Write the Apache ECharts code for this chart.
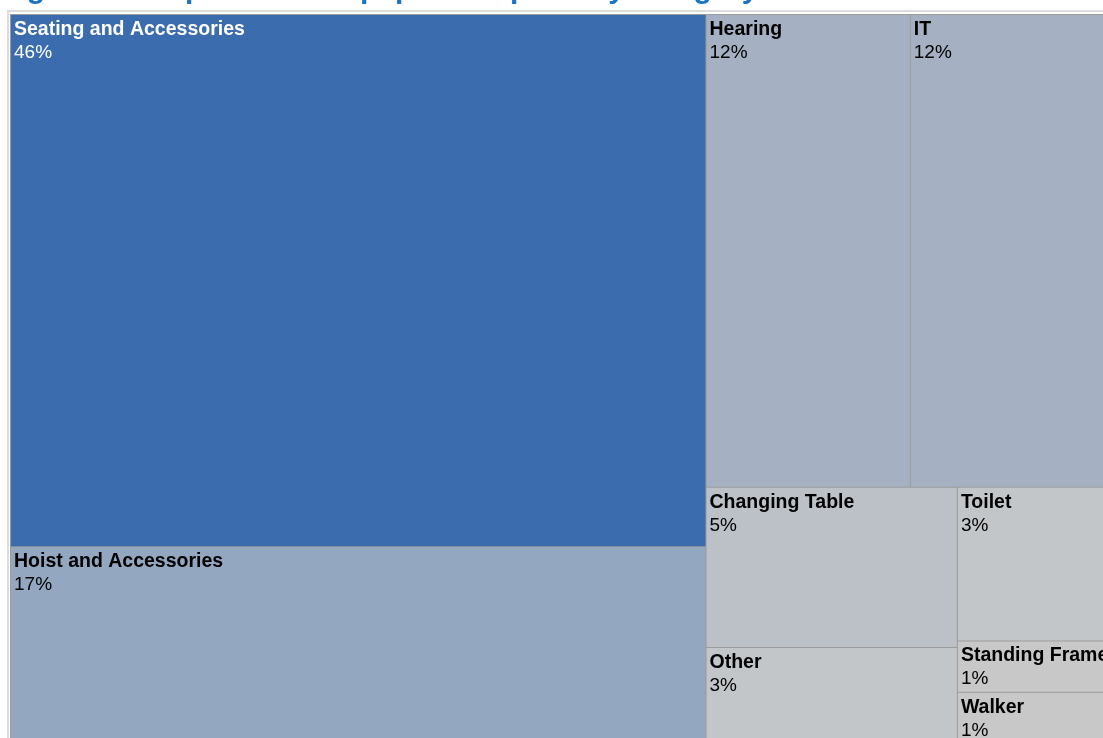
<!DOCTYPE html>
<html>
<head>
<meta charset="utf-8">
<script src="https://cdn.jsdelivr.net/npm/echarts@6/dist/echarts.min.js"></script>
<style>
  html, body { margin: 0; padding: 0; background: #ffffff; }
  #chart { width: 1103px; height: 738px; }
</style>
</head>
<body>
<div id="chart"></div>
<script>
// ---- data (already ordered largest first) ----
const categories = [
  'Seating and Accessories', 'Hoist and Accessories', 'Hearing', 'IT',
  'Changing Table', 'Other', 'Toilet', 'Standing Frame', 'Walker'
];
const shares = [46, 17, 12, 12, 5, 3, 3, 1, 1];
const titleText = 'Figure 1: Proportion of equipment spend by category';

// ---- styles ----
const cellColors = ['#3b6cae', '#93a7c0', '#a5b1c2', '#a5b1c2', '#bcc0c7', '#c3c6c9', '#c3c6c9', '#c8c8c9', '#c8c8c9'];
const labelColors = ['#ffffff', '#000000', '#000000', '#000000', '#000000', '#000000', '#000000', '#000000', '#000000'];
const FONT = 'Arial, "Liberation Sans", sans-serif';

const data = categories.map((name, i) => ({
  name: name,
  value: shares[i],
  itemStyle: { color: cellColors[i] },
  label: { color: labelColors[i] }
}));

const chart = echarts.init(document.getElementById('chart'), null, { renderer: 'canvas' });
chart.setOption({
  animation: false,
  title: {
    text: titleText,
    left: 0,
    top: -25,
    padding: 0,
    textStyle: {
      fontFamily: FONT,
      fontSize: 30,
      fontWeight: 'bold',
      color: '#1a73c4',
      lineHeight: 30
    }
  },
  graphic: [{
    type: 'rect',
    shape: { x: 8, y: 11, width: 1200, height: 800 },
    style: { fill: 'none', stroke: '#dcdcdc', lineWidth: 2 },
    silent: true,
    z: 0
  }],
  series: [{
    type: 'treemap',
    left: 10,
    top: 14,
    width: 1105,
    height: 730,
    roam: false,
    nodeClick: false,
    breadcrumb: { show: false },
    sort: false,
    itemStyle: { borderColor: '#9c9c9c', borderWidth: 0.5, gapWidth: 0 },
    label: {
      show: true,
      position: 'insideTopLeft',
      distance: 0,
      padding: [3, 3, 0, 3],
      fontFamily: FONT,
      overflow: 'none',
      formatter: function (p) { return '{n|' + p.name + '}\n{v|' + p.value + '%}'; },
      rich: {
        n: { fontSize: 19.5, fontWeight: 'bold', lineHeight: 23, fontFamily: FONT },
        v: { fontSize: 19, fontWeight: 'normal', lineHeight: 23, fontFamily: FONT }
      }
    },
    emphasis: { disabled: true },
    data: data
  }]
});
</script>
</body>
</html>
